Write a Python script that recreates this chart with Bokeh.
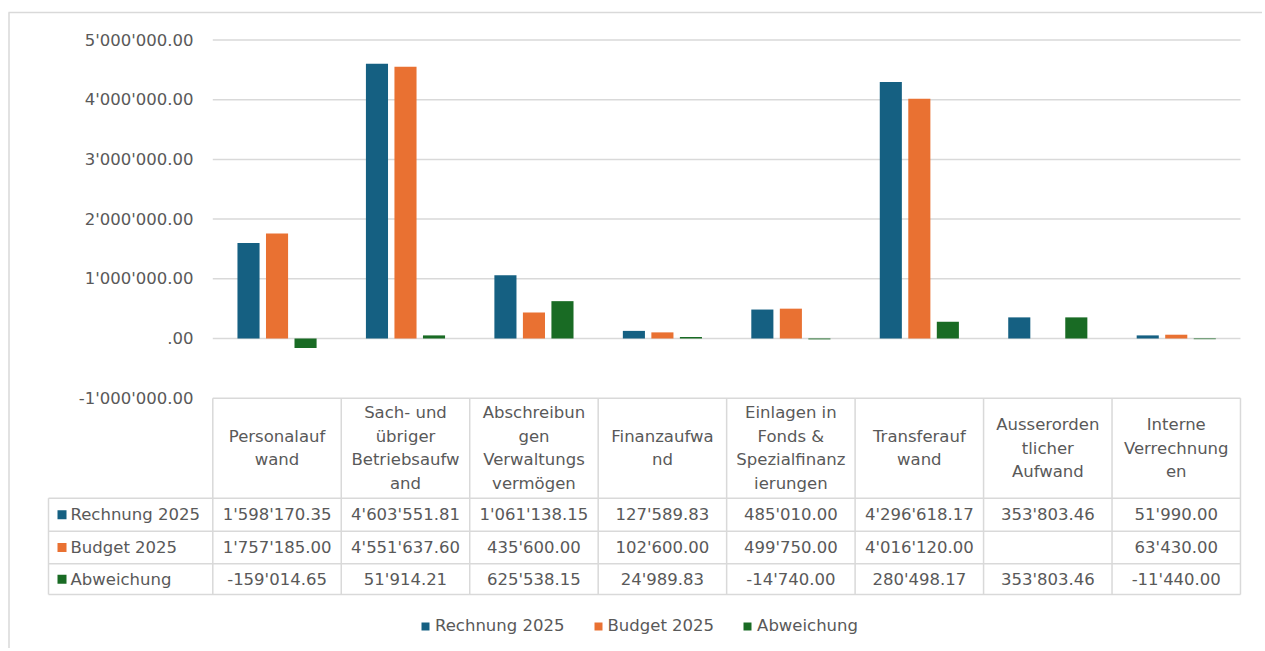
from bokeh.plotting import figure
from bokeh.models import (ColumnDataSource, LinearAxis, FixedTicker, Legend,
                          LegendItem, Range1d)
from bokeh.core.properties import value
from bokeh.embed import file_html
from bokeh.resources import INLINE

# ---------------- data ----------------
categories = [
    "Personalauf\nwand",
    "Sach- und\nübriger\nBetriebsaufw\nand",
    "Abschreibun\ngen\nVerwaltungs\nvermögen",
    "Finanzaufwa\nnd",
    "Einlagen in\nFonds &\nSpezialfinanz\nierungen",
    "Transferauf\nwand",
    "Ausserorden\ntlicher\nAufwand",
    "Interne\nVerrechnung\nen",
]
series_names = ["Rechnung 2025", "Budget 2025", "Abweichung"]
rechnung = [1598170.35, 4603551.81, 1061138.15, 127589.83, 485010.00,
            4296618.17, 353803.46, 51990.00]
budget = [1757185.00, 4551637.60, 435600.00, 102600.00, 499750.00,
          4016120.00, None, 63430.00]
abweichung = [-159014.65, 51914.21, 625538.15, 24989.83, -14740.00,
              280498.17, 353803.46, -11440.00]
y_ticks = [-1000000, 0, 1000000, 2000000, 3000000, 4000000, 5000000]
y_tick_labels = ["-1'000'000.00", ".00", "1'000'000.00", "2'000'000.00",
                 "3'000'000.00", "4'000'000.00", "5'000'000.00"]

# ---------------- styling / layout ----------------
colors = ["#156082", "#E97132", "#196B24"]
TEXT = "#595959"
LINE = "#D9D9D9"
FONT = "DejaVu Sans"
FS = "16.5px"

W, H = 1262, 648          # canvas size; canvas sits at page (0, 0)
X0_PX, CAT_PX = 212.3, 128.46   # px of category 0 left edge, width per category
Y0_PX, PX_PER_M = 338.0, 59.7   # px of value 0, px per million


def X(px):
    return (px - X0_PX) / CAT_PX


def Y(py):
    return (Y0_PX - py) / PX_PER_M * 1e6


n = len(categories)
series = [rechnung, budget, abweichung]
offsets = [-0.222, 0.0, 0.222]
bar_w = 0.172

p = figure(width=W, height=H, output_backend="svg", toolbar_location=None,
           x_range=Range1d(X(0), X(W)),
           y_range=Range1d(Y(H), Y(0)),
           x_axis_location=None, y_axis_location=None,
           min_border=0, min_border_left=0, min_border_right=0,
           min_border_top=0, min_border_bottom=0)
p.outline_line_color = None
p.xgrid.visible = False
p.ygrid.visible = False
p.background_fill_color = "white"
p.border_fill_color = "white"

# outer chart border (top & left visible)
p.segment(x0=[X(8), X(8.5)], y0=[Y(12), Y(12)],
          x1=[X(W), X(8.5)], y1=[Y(12), Y(H)],
          line_color=LINE, line_width=1.5)

# gridlines over the category area
p.segment(x0=[0] * len(y_ticks), x1=[n] * len(y_ticks), y0=y_ticks, y1=y_ticks,
          line_color=LINE, line_width=1.5)

# y axis inside the frame
yaxis = LinearAxis(ticker=FixedTicker(ticks=y_ticks),
                   fixed_location=X(201),
                   major_label_overrides={float(t): l for t, l in zip(y_ticks, y_tick_labels)},
                   axis_line_color=None, major_tick_line_color=None,
                   minor_tick_line_color=None, major_tick_out=0, major_tick_in=0,
                   major_label_standoff=8,
                   major_label_text_font=FONT, major_label_text_font_size=FS,
                   major_label_text_color=TEXT)
p.add_layout(yaxis, "left")

# bars
renderers = []
for s, vals in enumerate(series):
    xs = [i + 0.5 + offsets[s] for i, v in enumerate(vals) if v is not None]
    tops = [v for v in vals if v is not None]
    r = p.vbar(x=xs, top=tops, bottom=0, width=bar_w,
               fill_color=colors[s], line_color=None)
    renderers.append(r)

# ---------------- data table ----------------
TBL_TOP, HDR_BOT = 397.7, 497.7
ROW_EDGES = [497.7, 530.7, 563.3, 594.0]
LEFT_PX = 48.0

hx0, hx1, hy = [], [], []
for e in ROW_EDGES:
    hx0.append(X(LEFT_PX)); hx1.append(n); hy.append(Y(e))
p.segment(x0=hx0, x1=hx1, y0=hy, y1=hy, line_color=LINE, line_width=1.5)
vx = list(range(n + 1)) + [X(LEFT_PX)]
vy0 = [Y(TBL_TOP)] * (n + 1) + [Y(HDR_BOT)]
vy1 = [Y(ROW_EDGES[-1])] * (n + 2)
p.segment(x0=vx, x1=vx, y0=vy0, y1=vy1, line_color=LINE, line_width=1.5)

# header texts
tx, ty, tt = [], [], []
hc = (TBL_TOP + HDR_BOT) / 2
for i, lab in enumerate(categories):
    lines = lab.split("\n")
    m = len(lines)
    for k, ln in enumerate(lines):
        tx.append(i + 0.5)
        ty.append(Y(hc + (k - (m - 1) / 2) * 23.5))
        tt.append(ln)


def fmt(v):
    if v is None:
        return ""
    if abs(v) < 0.005:
        return ".00"
    s = f"{abs(v):,.2f}".replace(",", "'")
    return ("-" if v < 0 else "") + s


row_centers = [(ROW_EDGES[r] + ROW_EDGES[r + 1]) / 2 for r in range(3)]
for s, vals in enumerate(series):
    for i, v in enumerate(vals):
        tx.append(i + 0.5)
        ty.append(Y(row_centers[s]))
        tt.append(fmt(v))

p.text(x="x", y="y", text="t",
       source=ColumnDataSource(dict(x=tx, y=ty, t=tt)),
       text_font=value(FONT), text_font_size=FS, text_color=TEXT,
       text_align="center", text_baseline="middle")

# row headers with legend keys
p.scatter(x=[X(61.5)] * 3, y=[Y(c) for c in row_centers], marker="square",
          size=9, fill_color=colors, line_color=None)
p.text(x=[X(70)] * 3, y=[Y(c) for c in row_centers], text=series_names,
       text_font=value(FONT), text_font_size=FS, text_color=TEXT,
       text_align="left", text_baseline="middle")

# legend
legend = Legend(items=[LegendItem(label=nm, renderers=[r])
                       for nm, r in zip(series_names, renderers)],
                orientation="horizontal", location=(420, 13),
                glyph_width=10, glyph_height=10, label_standoff=5, spacing=28,
                padding=0, margin=0, border_line_color=None,
                background_fill_alpha=0, label_height=17,
                label_text_font=FONT, label_text_font_size=FS,
                label_text_color=TEXT)
p.add_layout(legend)

open("out.html", "w").write(file_html(p, INLINE))
